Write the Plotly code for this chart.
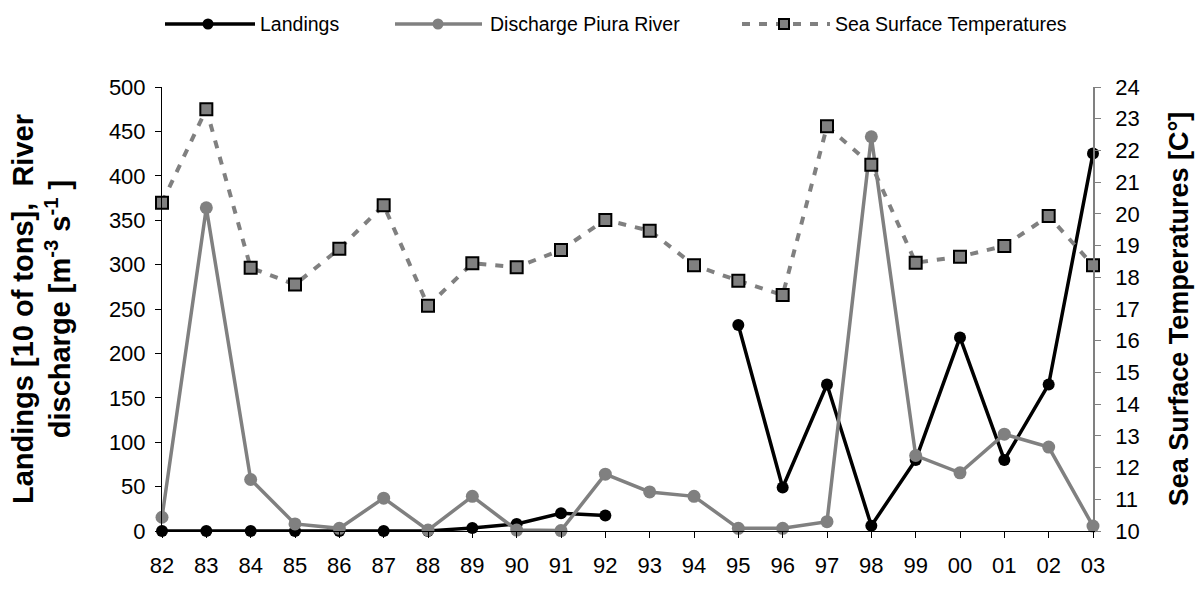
import plotly.graph_objects as go

# Fishing years (1982-2003)
years = ["82", "83", "84", "85", "86", "87", "88", "89", "90", "91", "92",
         "93", "94", "95", "96", "97", "98", "99", "00", "01", "02", "03"]

# Landings [10 of tons]; no records for 93 and 94
landings = [0, 0, 0, 0, 0, 0, 0, 3.5, 8, 20, 17.5,
            None, None, 232, 49, 165, 6, 80, 218, 80, 165, 425]

# Piura River discharge [m^-3 s^-1]
discharge = [15.5, 364, 58, 8, 3, 37, 1, 39, 1, 0.5, 64,
             44, 39, 3, 3, 10.5, 444, 85, 65.5, 109, 94.5, 5.5]

# Sea surface temperatures [C°]
sst = [20.35, 23.3, 18.3, 17.77, 18.9, 20.27, 17.1, 18.44, 18.32, 18.86, 19.81,
       19.47, 18.38, 17.89, 17.44, 22.76, 21.55, 18.46, 18.65, 18.99, 19.93, 18.38]

FONT = "Liberation Sans, Arial, sans-serif"
BLACK = "#000000"
GREY = "#808080"

fig = go.Figure()

fig.add_trace(go.Scatter(
    x=years, y=landings, name="Landings", mode="lines+markers",
    line=dict(color=BLACK, width=3.5), marker=dict(color=BLACK, size=12, symbol="circle"),
    connectgaps=False, cliponaxis=False, showlegend=False))

fig.add_trace(go.Scatter(
    x=years, y=discharge, name="Discharge Piura River", mode="lines+markers",
    line=dict(color=GREY, width=3.5), marker=dict(color=GREY, size=13, symbol="circle"),
    cliponaxis=False, showlegend=False))

fig.add_trace(go.Scatter(
    x=years, y=sst, name="Sea Surface Temperatures", mode="lines+markers", yaxis="y2",
    line=dict(color=GREY, width=4, dash="8px,9px"),
    marker=dict(color=GREY, size=12, symbol="square", line=dict(color=BLACK, width=2)),
    cliponaxis=False, showlegend=False))

# Plot area geometry (pixels) for the hand-drawn legend
L, R, T, B = 162, 110, 87, 45
W_PX, H_PX = 1203, 590
pw, ph = W_PX - L - R, H_PX - T - B


def px_x(p):
    return (p - L) / pw


def px_y(p):
    return (H_PX - B - p) / ph


leg_y = px_y(22)
shapes = []
annotations = []

legend_items = [
    # (label, line start, line end, marker centre, text start, colour, dash, symbol)
    ("Landings", 165, 255, 208, 258, BLACK, "solid", "circle"),
    ("Discharge Piura River", 395, 482, 438, 488, GREY, "solid", "circle"),
    ("Sea Surface Temperatures", 742, 830, 784, 833, GREY, "8px,9px", "square"),
]
for label, x0, x1, xm, xt, col, dash, sym in legend_items:
    shapes.append(dict(type="line", xref="paper", yref="paper",
                       x0=px_x(x0), x1=px_x(x1), y0=leg_y, y1=leg_y,
                       line=dict(color=col, width=3.5 if dash == "solid" else 4, dash=dash)))
    if sym == "circle":
        shapes.append(dict(type="circle", xref="paper", yref="paper",
                           xsizemode="pixel", ysizemode="pixel",
                           xanchor=px_x(xm), yanchor=leg_y,
                           x0=-5.5, x1=5.5, y0=-5.5, y1=5.5,
                           fillcolor=col, line=dict(color=col, width=0)))
    else:
        shapes.append(dict(type="rect", xref="paper", yref="paper",
                           xsizemode="pixel", ysizemode="pixel",
                           xanchor=px_x(xm), yanchor=leg_y,
                           x0=-5, x1=5, y0=-5, y1=5,
                           fillcolor=GREY, line=dict(color=BLACK, width=2)))
    annotations.append(dict(text=label, xref="paper", yref="paper",
                            x=px_x(xt), y=leg_y, xanchor="left", yanchor="middle",
                            showarrow=False, font=dict(family=FONT, size=19.5, color=BLACK)))

fig.update_layout(
    width=W_PX, height=H_PX,
    margin=dict(l=L, r=R, t=T, b=B, pad=0),
    paper_bgcolor="white", plot_bgcolor="white",
    font=dict(family=FONT, size=22, color=BLACK),
    showlegend=False,
    shapes=shapes, annotations=annotations,
    xaxis=dict(type="category", range=[0, 21], showline=True, linecolor=BLACK, linewidth=1,
               ticks="outside", ticklen=6, tickcolor=BLACK, showgrid=False, zeroline=False,
               ticklabelstandoff=9, tickfont=dict(size=22)),
    yaxis=dict(range=[0, 500], dtick=50, showline=True, linecolor=BLACK, linewidth=1,
               ticks="outside", ticklen=6, tickcolor=BLACK, showgrid=False, zeroline=False,
               ticklabelstandoff=5, tickfont=dict(size=22),
               title=dict(text="<b>Landings [10 of tons],  River<br>discharge [m<sup>-3</sup> s<sup>-1</sup> ]</b>",
                          font=dict(size=29), standoff=29)),
    yaxis2=dict(range=[10, 24], dtick=1, overlaying="y", side="right", showline=True,
                linecolor=GREY, linewidth=1.5, ticks="outside", ticklen=6, tickcolor=GREY,
                showgrid=False, zeroline=False, ticklabelstandoff=10, tickfont=dict(size=22),
                title=dict(text="<b>Sea Surface Temperatures [C°]</b>", font=dict(size=27), standoff=30)),
)

fig.write_html("out.html")
